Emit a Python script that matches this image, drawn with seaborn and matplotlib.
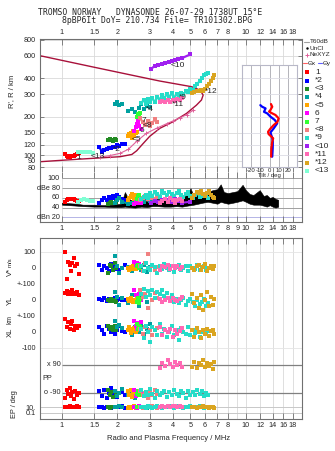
import numpy as np
import matplotlib
matplotlib.use("Agg")
import matplotlib.pyplot as plt
import seaborn as sns
from matplotlib.ticker import NullLocator

sns.set_style("white")
plt.rcParams['font.family'] = ['Liberation Sans', 'DejaVu Sans']

W, H = 335, 451

# ---------------- axis ticks ----------------
FREQ_TICKS = [1, 1.5, 2, 3, 4, 5, 6, 7, 8, 10, 12, 14, 16, 18]
FREQ_TICKS_MID = [1, 1.5, 2, 3, 4, 5, 6, 7, 8, 9, 10, 12, 14, 16, 18]
RANGE_TICKS = [80, 90, 100, 120, 150, 200, 300, 400, 600, 800]
DB_LEVELS = [100, 80, 60, 40, 20]
DB_LABELS = ['100', 'dBe 80', '60', '40', 'dBn 20']
TILT_TICKS = [-20, -10, 0, 10, 20]

# ---------------- model curves (main panel) ----------------
MODEL_F = [0.76, 1.5, 2.5, 3.4, 4.2, 5.07, 5.63, 5.86, 5.74, 5.39, 4.76, 4.01,
           3.41, 3.0, 2.75, 2.55, 2.4, 2.07, 1.2, 0.76]
MODEL_R = [600, 487, 417, 380, 360, 343, 323, 295, 270, 246, 212, 182,
           162, 140, 122, 108, 101, 97, 92.5, 88.6]
NE_F = [1.61, 1.82, 2.07, 2.3, 2.55, 2.88, 3.27, 3.71, 4.02, 4.4, 4.76, 5.17]
NE_R = [96, 99, 103, 111, 128, 148, 162, 176, 185, 196, 207, 224]

# ---------------- tilt inset ----------------
THX_R = [97, 113, 127, 135, 146, 152, 161, 172, 182, 194, 206, 212, 219, 225, 239, 251]
THX = [1.8, 2, 3, 4, -1, -1.6, 1, 4.7, 8.7, 10, 6.5, 3, -0.5, 1, 3, 1.6]
THY_R = [97, 113, 127, 136, 150, 162, 177, 188, 200, 212, 218, 232, 239, 246]
THY = [3, 3.5, 3.6, 3, 1, 4.7, 8.4, 5.8, 1, -2.5, -6, -4.3, -8, -10]

# ---------------- noise band (dB panel) ----------------
NOISE_F = [1.0, 1.1, 1.2, 1.3, 1.5, 1.7, 1.9, 2.1, 2.2, 2.3, 2.5, 2.7, 2.9, 3.1,
           3.3, 3.6, 3.9, 4.2, 4.5, 4.8, 5.0, 5.2, 5.5, 5.8, 6.2, 6.6, 7.0, 7.3,
           7.6, 8.0, 8.5, 9.0, 9.6, 10.0, 10.5, 11.0, 11.9, 12.5, 13.0, 13.5,
           14.0, 14.5, 15.0]
NOISE_LO = [46, 45, 44, 43, 42, 42, 41, 41, 42, 41, 40, 42, 41, 43,
            43, 42, 42, 43, 42, 44, 45, 46, 48, 50, 52, 50, 48, 52,
            50, 48, 50, 52, 55, 52, 48, 46, 46, 44, 42, 45,
            42, 40, 42]
NOISE_HI = [50, 49, 48, 46, 46, 45, 46, 48, 72, 58, 52, 56, 53, 55,
            58, 56, 58, 60, 62, 66, 80, 64, 68, 70, 72, 76, 78, 88,
            72, 70, 72, 74, 87, 76, 68, 66, 76, 64, 66, 60,
            62, 58, 56]

# ---------------- echoes ----------------
ECHO_LABELS = ['1', '*2', '<3', '*4', '<5', '6', '7', '<8', '*9', '<10', '*11', '*12', '<13']
ECHO_COLORS = ['#FF0000', '#0000FF', '#228B22', '#00A0A0', '#FFA500', '#FF00FF',
               '#33FF33', '#F08080', '#26DCC8', '#A020F0', '#FF69B4', '#DAA520', '#80FFD4']

F1 = [1.04, 1.06, 1.08, 1.10, 1.12, 1.14, 1.16, 1.18, 1.21, 1.24]
R1 = [101, 98, 97, 97, 98, 98, 99, 100, 101, 103]
DB1 = [52, 55, 57, 58, 58, 57, 57, 55, 54, 53]
V1 = [100, -70, 40, 20, -20, 30, 60, 10, 25, -40]
YL1 = [45, 55, 40, 50, 35, 60, 45, 40, 50, 30]
XL1 = [80, 30, 60, 20, 50, 70, 15, 40, 25, 35]
PP1 = [-120, -70, -95, -60, -110, -85, -130, -75, -100, -90]
EP1 = [10, 15, 8, 20, 12, 9, 14, 11, 18, 7]

F2 = [1.60, 1.65, 1.70, 1.75, 1.80, 1.85, 1.90, 1.95, 2.00, 2.05, 2.12, 2.20]
R2 = [115, 106, 110, 112, 114, 113, 116, 115, 119, 118, 121, 123]
DB2 = [50, 56, 60, 55, 62, 58, 64, 60, 66, 62, 58, 55]
V2 = [20, -10, 15, 0, -20, 25, 5, -5, 10, -15, 0, 20]
YL2 = [5, 0, 10, -5, 8, 3, 0, 12, -3, 5, 0, 2]
XL2 = [30, 10, -10, 40, 20, 0, 25, -15, 10, 35, 5, 0]
PP2 = [-80, -110, -70, -120, -90, -60, -100, -75, -115, -90, -85, -105]
EP2 = [8, 12, 6, 15, 10, 5, 9, 14, 7, 11, 20, 6]

F3 = [1.78, 1.82, 1.86, 1.90, 1.94, 1.97]
R3 = [130, 133, 131, 128, 134, 132]
DB3 = [48, 50, 52, 50, 49, 51]
V3 = [-30, 20, 10, -10, 30, 0]
YL3 = [0, -8, 5, -5, 3, -10]
XL3 = [40, 20, 30, 10, 35, 15]
PP3 = [-70, -100, -85, -115, -80, -95]
EP3 = [10, 6, 15, 8, 12, 9]

F4 = [1.95, 2.00, 2.05, 2.12, 2.30, 2.40, 2.50, 2.62, 2.70, 2.80, 2.90, 3.00]
R4 = [250, 258, 246, 252, 222, 230, 218, 235, 250, 228, 242, 238]
DB4 = [50, 55, 60, 52, 48, 50, 54, 56, 55, 52, 58, 54]
V4 = [75, 10, -30, 0, 5, -20, 10, 0, -10, 20, -25, 5]
YL4 = [50, 20, -30, 10, -20, 30, 0, -40, 10, 20, -10, 30]
XL4 = [70, 30, 45, 25, 10, -20, 30, 0, 40, -10, 20, 50]
PP4 = [-75, -110, -90, -65, -100, -80, -120, -95, -70, -105, -85, -90]
EP4 = [12, 7, 18, 9, 5, 14, 10, 25, 8, 11, 6, 16]

F5 = [2.28, 2.32, 2.36, 2.40, 2.44, 2.48, 2.52, 2.56]
R5 = [140, 145, 150, 136, 155, 142, 148, 152]
DB5 = [55, 60, 64, 68, 62, 58, 66, 60]
V5 = [0, -10, 5, -5, 10, 0, -8, 3]
YL5 = [5, -5, 10, 0, -10, 3, -3, 8]
XL5 = [10, 30, -5, 20, 5, 25, 0, 15]
PP5 = [-80, -105, -70, -115, -90, -100, -75, -95]
EP5 = [6, 10, 4, 14, 8, 20, 5, 9]

F6 = [2.48, 2.52, 2.56, 2.60, 2.64, 2.68]
R6 = [155, 165, 175, 185, 170, 160]
DB6 = [48, 52, 56, 50, 54, 49]
V6 = [40, 20, 30, 10, 25, 15]
YL6 = [60, 30, -10, 20, 40, 0]
XL6 = [70, 40, 20, 55, 30, 60]
PP6 = [-70, -110, -90, -80, -100, -85]
EP6 = [9, 14, 6, 11, 18, 8]

F7 = [2.55, 2.58, 2.62, 2.65]
R7 = [200, 210, 205, 215]
DB7 = [58, 64, 66, 60]
V7 = [10, 20, 0, 15]
YL7 = [-10, 10, -20, 5]
XL7 = [50, 20, 40, 30]
PP7 = [-95, -80, -105, -90]
EP7 = [10, 7, 13, 9]

F8 = [2.66, 2.75, 2.84, 2.93, 3.02, 3.10, 3.20, 3.30]
R8 = [195, 180, 172, 185, 168, 178, 190, 182]
DB8 = [55, 60, 63, 58, 65, 60, 57, 62]
V8 = [10, -20, 30, 90, 0, 15, -10, 5]
YL8 = [60, 20, 40, -50, 30, 0, 45, 10]
XL8 = [20, -10, 30, 0, 15, -20, 10, 25]
PP8 = [-75, -105, -90, -120, -80, -100, -70, -95]
EP8 = [12, 6, 9, 16, 8, 22, 10, 5]

F9 = [2.70, 2.78, 2.86, 2.94, 3.02, 3.10, 3.20, 3.30, 3.40, 3.50,
      3.60, 3.72, 3.84, 3.96, 4.08, 4.20, 4.32, 4.45, 4.58, 4.72,
      4.86, 5.00, 5.15, 5.30, 5.45, 5.60, 5.75, 5.90, 6.05, 6.20]
R9 = [255, 270, 250, 275, 262, 280, 258, 285, 272, 295,
      278, 300, 285, 305, 282, 298, 290, 305, 300, 315,
      310, 330, 325, 345, 360, 380, 400, 420, 430, 440]
DB9 = [58, 62, 66, 60, 70, 64, 72, 68, 62, 74,
       70, 66, 72, 68, 64, 70, 74, 66, 62, 68,
       72, 64, 60, 66, 70, 62, 68, 64, 66, 60]
V9 = [10, -20, 30, 0, -10, 20, 5, -30, 15, -5,
      25, 0, -15, 10, -25, 5, 20, -10, 0, 15,
      -20, 10, 0, -5, 20, -15, 5, 10, -10, 0]
YL9 = [40, 70, 20, 55, 30, 65, 15, 50, 35, 60,
       25, 45, 10, 30, -10, 5, -20, 0, 10, -30,
       -5, 5, -15, -40, 0, -25, -10, 5, -35, -20]
XL9 = [20, -40, 40, 0, -60, 30, 10, -20, 50, -10,
       20, -30, 0, 40, -20, 10, -50, 25, 0, -10,
       30, -20, 10, -5, 20, -30, 0, 15, -15, 5]
PP9 = [-70, -110, -85, -100, -65, -95, -120, -80, -105, -90,
       -75, -115, -85, -100, -70, -95, -110, -80, -90, -120,
       -75, -100, -85, -105, -70, -95, -80, -110, -90, -100]
EP9 = [8, 14, 5, 20, 10, 6, 12, 25, 9, 4,
       15, 7, 11, 30, 6, 10, 18, 8, 5, 13,
       9, 22, 7, 12, 6, 16, 10, 5, 14, 8]

F10 = [3.04, 3.20, 3.35, 3.50, 3.65, 3.80, 3.95, 4.10, 4.30, 4.50, 5.00]
R10 = [470, 500, 510, 520, 530, 540, 548, 555, 565, 575, 615]
DB10 = [50, 54, 52, 56, 58, 55, 52, 57, 54, 50, 52]

F11 = [3.40, 3.52, 3.64, 3.76, 3.88, 4.00, 4.12, 4.24, 4.36, 4.48]
R11 = [260, 265, 258, 268, 262, 272, 266, 275, 270, 278]
DB11 = [50, 54, 58, 52, 60, 56, 50, 55, 58, 53]
V11 = [-10, 15, 5, 20, -5, 10, 0, 15, -8, 5]
YL11 = [5, -10, 0, 10, -5, 15, 0, -8, 5, 20]
XL11 = [30, -20, 10, 0, 20, -30, 15, -10, 5, 25]
PP11 = [70, 105, 85, 120, 95, 75, 110, 90, 100, 80]
EP11 = [10, 20, 14, 30, 8, 16, 25, 12, 18, 9]

F12 = [5.10, 5.25, 5.40, 5.55, 5.70, 5.85, 6.00, 6.15, 6.30, 6.45, 6.60, 6.75]
R12 = [308, 312, 318, 315, 322, 320, 330, 345, 362, 380, 400, 420]
DB12 = [60, 66, 72, 70, 75, 68, 64, 70, 74, 66, 62, 60]
V12 = [0, -15, 10, 20, -10, 5, 25, -20, 0, 10, -5, 15]
YL12 = [40, -20, 10, -50, 30, -60, 0, 50, -40, 20, -30, 5]
XL12 = [10, -30, 25, 0, -40, 15, -10, 20, -25, 5, 10, -15]
PP12 = [80, 110, 70, 100, 90, 120, 75, 105, 85, 95, 65, 110]
EP12 = [8, 12, 6, 15, 9, 20, 7, 11, 5, 14, 10, 6]

F13 = [1.22, 1.27, 1.32, 1.37, 1.42, 1.48]
R13 = [105, 106, 106, 105, 106, 104]
DB13 = [52, 55, 57, 56, 54, 53]

# echo label positions in the range panel (freq MHz, range km)
TAG_IDX = [0, 1, 3, 4, 5, 6, 7, 8, 9, 10, 11, 12]
TAG_F = [1.23, 2.0, 3.01, 2.55, 2.72, 2.79, 2.93, 4.52, 4.27, 4.27, 6.45, 1.56]
TAG_R = [96, 110, 229, 133, 157, 188, 169, 280, 506, 251, 312, 98]

ECHOES = [
    (F1, R1, DB1, V1, YL1, XL1, PP1, EP1),
    (F2, R2, DB2, V2, YL2, XL2, PP2, EP2),
    (F3, R3, DB3, V3, YL3, XL3, PP3, EP3),
    (F4, R4, DB4, V4, YL4, XL4, PP4, EP4),
    (F5, R5, DB5, V5, YL5, XL5, PP5, EP5),
    (F6, R6, DB6, V6, YL6, XL6, PP6, EP6),
    (F7, R7, DB7, V7, YL7, XL7, PP7, EP7),
    (F8, R8, DB8, V8, YL8, XL8, PP8, EP8),
    (F9, R9, DB9, V9, YL9, XL9, PP9, EP9),
    (F10, R10, DB10, None, None, None, None, None),
    (F11, R11, DB11, V11, YL11, XL11, PP11, EP11),
    (F12, R12, DB12, V12, YL12, XL12, PP12, EP12),
    (F13, R13, DB13, None, None, None, None, None),
]

# stacked lower panel: vertical offsets of each sub-scale (in m/s units)
YL_OFF, XL_OFF = -200, -400
PP_MID, PP_K = -693.5, 0.972
EP_REF, EP_K = -869, 18.5


def pp_y(v):
    return PP_MID + PP_K * np.asarray(v, float)


def ep_y(v):
    return EP_REF + EP_K * (np.log10(np.asarray(v, float)) - 1)


LOWER_TICKS = [100, 0, -100, YL_OFF, YL_OFF - 100, XL_OFF, XL_OFF - 100,
               float(ep_y(10)), float(ep_y(0.1))]
LOWER_LABELS = ['100', '0', '+-100', '0', '+-100', '0', '-100', '10.', '0.1']

# ---------------- figure ----------------
fig = plt.figure(figsize=(W / 100, H / 100), dpi=100)
FS = 5.2
GRID = '#d9d9d9'
SPINE = '#707070'


def px_axes(x0, y0, x1, y1, **kw):
    return fig.add_axes([x0 / W, 1 - y1 / H, (x1 - x0) / W, (y1 - y0) / H], **kw)


def dots(ax, x, y, color, s=6):
    sns.scatterplot(x=np.asarray(x, float), y=np.asarray(y, float), ax=ax, color=color,
                    marker='s', s=s, linewidth=0, legend=False, zorder=3)


def trace(ax, x, y, color, lw=1.4):
    sns.lineplot(x=np.asarray(x, float), y=np.asarray(y, float), ax=ax, sort=False,
                 estimator=None, color=color, lw=lw, zorder=3)


def freq_axis(ax, ticks, labelbottom=False, labeltop=False):
    ax.set_xscale('log')
    ax.set_xlim(0.76, 20.2)
    ax.set_xticks(ticks)
    ax.set_xticklabels([f'{t:g}' for t in ticks])
    ax.xaxis.set_minor_locator(NullLocator())
    ax.tick_params(axis='x', which='major', top=True, bottom=True, direction='in',
                   length=4, width=0.6, color=SPINE, labelsize=FS, pad=2,
                   labelbottom=labelbottom, labeltop=labeltop)
    for t in FREQ_TICKS_MID:
        ax.axvline(t, color=GRID, lw=0.6, zorder=0)
    for sp in ax.spines.values():
        sp.set_color(SPINE)
        sp.set_linewidth(0.8)


# ---- range panel ----
ax = px_axes(40, 39, 302, 172)
freq_axis(ax, FREQ_TICKS, labeltop=True)
ax.set_yscale('log')
ax.set_ylim(73.6, 811)
ax.set_yticks(RANGE_TICKS)
ax.set_yticklabels([str(t) for t in RANGE_TICKS])
ax.yaxis.set_minor_locator(NullLocator())
ax.tick_params(axis='y', left=True, right=True, direction='in', length=3, width=0.6,
               color=SPINE, labelsize=FS, pad=3)
for t in RANGE_TICKS:
    ax.axhline(t, color=GRID, lw=0.6, zorder=0)
ax.spines['bottom'].set_visible(False)

sns.lineplot(x=MODEL_F, y=MODEL_R, ax=ax, sort=False, estimator=None,
             color='#A8103A', lw=1.0, zorder=2)
sns.lineplot(x=NE_F, y=NE_R, ax=ax, sort=False, estimator=None, color='#E0609A',
             lw=0.8, marker='+', markersize=3.5, markeredgewidth=0.7,
             markeredgecolor='#E0609A', zorder=2)
for k, ((f, r, *_), c) in enumerate(zip(ECHOES, ECHO_COLORS)):
    if k not in (2, 3):
        trace(ax, f, r, c, lw=1.6)
    dots(ax, f, r, c, s=7)
for i, tf, tr in zip(TAG_IDX, TAG_F, TAG_R):
    ax.text(tf, tr, ECHO_LABELS[i], fontsize=6, ha='center', va='center', zorder=5)
ax.set_xlabel('')
ax.set_ylabel('')

# ---- tilt inset ----
axi = px_axes(242, 65, 297, 167, zorder=6)
axi.set_facecolor('white')
axi.set_xlim(-30, 30)
axi.set_yscale('log')
axi.set_ylim(80.5, 508)
axi.set_xticks(TILT_TICKS)
axi.set_xticklabels([str(t) for t in TILT_TICKS])
axi.set_yticks([])
axi.yaxis.set_minor_locator(NullLocator())
axi.tick_params(axis='x', length=0, labelsize=4.3, pad=1)
for t in TILT_TICKS:
    axi.axvline(t, color='#a8a8b0', lw=0.6, zorder=0)
for t in [100, 120, 150, 200, 300, 400]:
    axi.axhline(t, color='#dcdce4', lw=0.6, zorder=0)
for sp in axi.spines.values():
    sp.set_color('#b8b8c8')
    sp.set_linewidth(0.8)
sns.lineplot(x=THY, y=THY_R, ax=axi, sort=False, estimator=None, color='#0000FF', lw=1.6)
sns.lineplot(x=THX, y=THX_R, ax=axi, sort=False, estimator=None, color='#FF0000', lw=1.6)
axi.set_ylabel('')
axi.set_xlabel('Tilt / deg', fontsize=4.3, labelpad=0)

# ---- amplitude panel ----
axd = px_axes(40, 172, 302, 222)
freq_axis(axd, FREQ_TICKS_MID, labelbottom=True)
axd.set_ylim(10.3, 113.4)
axd.set_yticks([])
axd.spines['top'].set_visible(False)
for lvl, lab in zip(DB_LEVELS, DB_LABELS):
    axd.hlines(lvl, 1.0, 20.2, color='#b4b4e6' if lvl == 20 else '#a0a0a0', lw=0.7, zorder=0)
    axd.text(0.975, lvl, lab, fontsize=FS, ha='right', va='center')
axd.fill_between(NOISE_F, NOISE_LO, NOISE_HI, color='black', lw=0.4, zorder=2)
for (f, r, db, *_), c in zip(ECHOES, ECHO_COLORS):
    trace(axd, f, db, c, lw=1.5)
    dots(axd, f, db, c, s=6)
axd.set_xlabel('')
axd.set_ylabel('')

# ---- velocity / location / polarization panel ----
axl = px_axes(40, 238, 302, 419)
freq_axis(axl, FREQ_TICKS, labelbottom=True)
axl.set_ylim(-943.75, 187.5)
axl.set_yticks(LOWER_TICKS)
axl.set_yticklabels(LOWER_LABELS)
axl.tick_params(axis='y', direction='in', length=3, width=0.6, color=SPINE,
                labelsize=FS, pad=3)
for lvl in [100, XL_OFF - 100]:
    axl.axhline(lvl, color='#e4e4e4', lw=0.6, zorder=0)
for lvl in [float(ep_y(10)), float(ep_y(0.1))]:
    axl.axhline(lvl, color='#c8c8c8', lw=0.7, zorder=0)
for v, lab in [(90, 'x 90'), (-90, 'o -90')]:
    axl.hlines(float(pp_y(v)), 1.0, 20.2, color='#808080', lw=0.9, zorder=1)
    axl.text(0.985, float(pp_y(v)), lab, fontsize=FS, ha='right', va='center')
axl.text(0.83, float(pp_y(0)), 'PP', fontsize=FS, ha='center', va='center')
for (f, r, db, v, yl, xl, pp, ep), c in zip(ECHOES, ECHO_COLORS):
    if v is None:
        continue
    dots(axl, f, v, c, s=7)
    dots(axl, f, np.asarray(yl, float) + YL_OFF, c, s=7)
    dots(axl, f, np.asarray(xl, float) + XL_OFF, c, s=7)
    dots(axl, f, pp_y(pp), c, s=7)
    dots(axl, f, ep_y(ep), c, s=7)
axl.set_xlabel('')
axl.set_ylabel('')


# ---- side labels ----
def ftext(x, y, s, **kw):
    fig.text(x / W, 1 - y / H, s, **kw)


ftext(150, 12.5, 'TROMSO NORWAY   DYNASONDE 26-07-29 1738UT 15\u00b0E',
      family='DejaVu Sans Mono', fontsize=5.9, ha='center', va='center')
ftext(157, 20.5, '8pBP6It DoY= 210.734 File= TR101302.BPG',
      family='DejaVu Sans Mono', fontsize=5.9, ha='center', va='center')
ftext(12, 91, "R', R / km", rotation=90, fontsize=5.5, ha='center', va='center')
ftext(10, 272, 'V*', rotation=90, fontsize=5.5, ha='center', va='center')
ftext(10, 262, 'm/s', rotation=90, fontsize=4.3, ha='center', va='center')
ftext(10, 300, 'YL', rotation=90, fontsize=5.5, ha='center', va='center')
ftext(10, 320, 'km', rotation=90, fontsize=4.8, ha='center', va='center')
ftext(10, 332, 'XL', rotation=90, fontsize=5.5, ha='center', va='center')
ftext(14, 404, 'EP / deg', rotation=90, fontsize=5.3, ha='center', va='center')
ftext(169, 438, 'Radio and Plasma Frequency / MHz', fontsize=5.5, ha='center', va='center')

# ---- legend column ----
axg = px_axes(302, 36, 335, 176)
axg.set_xlim(302, 335)
axg.set_ylim(176, 36)
axg.axis('off')
axg.plot([304, 309], [41.7, 41.7], color='#a0a0a0', lw=0.8)
axg.text(310, 41.7, 'T60dB', fontsize=4.6, va='center')
axg.plot([307], [48.3], marker='.', color='black', markersize=1.5)
axg.text(310, 48.3, 'UnCl', fontsize=4.6, va='center')
axg.plot([307], [55], marker='+', color='#E0609A', markersize=3.5, mew=0.7)
axg.text(310, 55, 'NeXYZ', fontsize=4.6, va='center')
axg.plot([303, 307], [63.3, 63.3], color='#FF6060', lw=0.8)
axg.text(307.5, 63.3, '\u0398x', fontsize=4.6, va='center')
axg.plot([318, 322], [63.3, 63.3], color='#6060FF', lw=0.8)
axg.text(322.5, 63.3, '\u0398y', fontsize=4.6, va='center')
for i, (lab, c) in enumerate(zip(ECHO_LABELS, ECHO_COLORS)):
    yy = 72.3 + i * 8.2
    axg.plot([307], [yy], marker='s', color=c, markersize=2.2, mew=0)
    axg.text(315, yy, lab, fontsize=6, va='center')

fig.savefig('out.png', dpi=100)
